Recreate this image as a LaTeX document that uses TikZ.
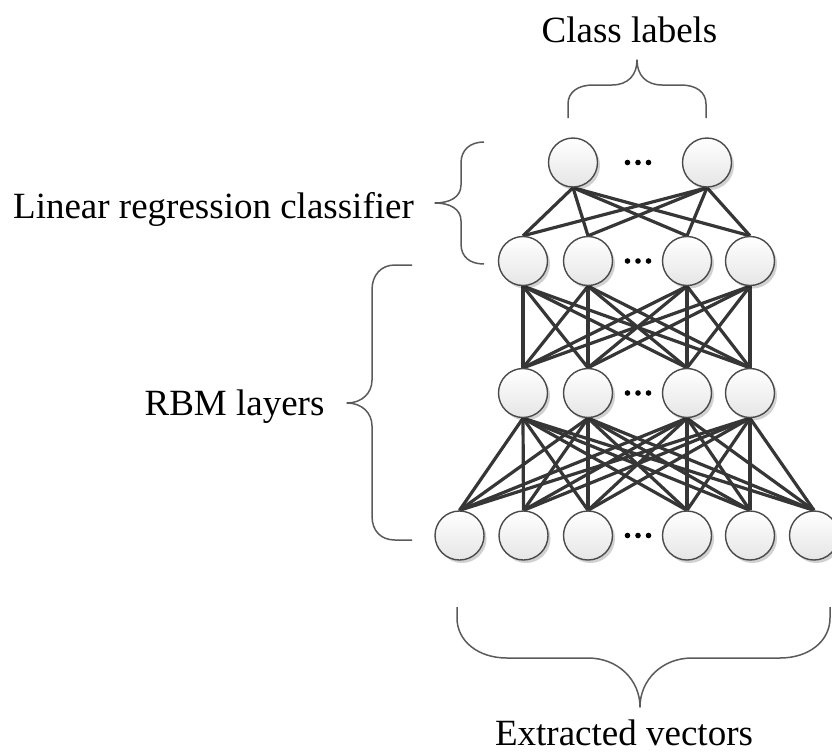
\documentclass[tikz,border=0pt]{standalone}
\usepackage{fontspec}
\setmainfont{Liberation Serif}
\usetikzlibrary{shadows,backgrounds}
\definecolor{edgecol}{HTML}{363636}
\definecolor{rimcol}{HTML}{4A4A4A}
\definecolor{bracecol}{HTML}{5A5A5A}
\tikzset{
  unit/.style={circle, minimum size=49pt, inner sep=0pt, draw=rimcol, line width=1.4pt,
    top color=white, bottom color=black!10,
    drop shadow={shadow xshift=2.5pt, shadow yshift=-3pt, fill=black, opacity=0.18}},
  link/.style={draw=edgecol, line width=3.2pt},
  bracepath/.style={draw=bracecol, line width=1.5pt, line join=round},
  lbl/.style={inner sep=0pt, anchor=base, font=\fontsize{37}{44}\selectfont},
  dotmark/.style={fill=black}
}
\begin{document}
\begin{tikzpicture}[x=1pt,y=-1pt]
\useasboundingbox (0,0) rectangle (832,755);
\clip (0,0) rectangle (832,755);
% layers
\node[unit] (t1) at (573,162.5) {};
\node[unit] (t2) at (707,162.5) {};
\foreach \i/\x in {1/523,2/588,3/687,4/750} {
  \node[unit] (a\i) at (\x,261) {};
  \node[unit] (b\i) at (\x,393) {};
}
\foreach \i/\x in {1/459.5,2/523.5,3/588,4/687,5/750,6/814} {
  \node[unit] (c\i) at (\x,535.5) {};
}
% dots
\foreach \y in {162.5,261,393,535.5} {
  \foreach \x in {627.5,638,648.5} { \fill[dotmark] (\x,\y) circle (2.8); }
}
% connections
\begin{scope}[on background layer]
\foreach \i in {1,2} { \foreach \j in {1,...,4} { \draw[link] (t\i.south) -- (a\j.north); } }
\foreach \i in {1,...,4} { \foreach \j in {1,...,4} { \draw[link] (a\i.south) -- (b\j.north); } }
\foreach \i in {1,...,4} { \foreach \j in {1,...,6} { \draw[link] (b\i.south) -- (c\j.north); } }
\end{scope}
% braces
\draw[bracepath] (568,118) -- (568,104) .. controls (568,92) and (578,85) .. (593,85) -- (612,85)
  .. controls (628,85) and (637,75) .. (637,60)
  .. controls (637,75) and (646,85) .. (662,85) -- (681,85)
  .. controls (696,85) and (706,92) .. (706,104) -- (706,118);
\draw[bracepath] (484,142) .. controls (470,142) and (461,150) .. (461,163) -- (461,185)
  .. controls (461,197) and (450,203) .. (435,203)
  .. controls (450,203) and (461,209) .. (461,221) -- (461,244)
  .. controls (461,257) and (470,264) .. (484,264);
\draw[bracepath] (412,265) -- (395,265) .. controls (381,265) and (372,275) .. (372,290) -- (372,380)
  .. controls (372,393) and (362,403) .. (347,403)
  .. controls (362,403) and (372,413) .. (372,426) -- (372,516)
  .. controls (372,531) and (381,540) .. (395,540) -- (412,540);
\draw[bracepath] (457,607) -- (457,618) .. controls (457,641) and (478,658) .. (507,658) -- (588,658)
  .. controls (618,658) and (640,680) .. (640,707)
  .. controls (640,680) and (662,658) .. (692,658) -- (780,658)
  .. controls (809,658) and (830,641) .. (830,618) -- (830,607);
% labels
\node[lbl] (classlbl) at (629.5,42) {Class labels};
\node[lbl] (lrclbl) at (213.5,218) {Linear regression classifier};
\node[lbl] (rbmlbl) at (234.5,415) {RBM layers};
\node[lbl] (extlbl) at (624,745) {Extracted vectors};
\end{tikzpicture}
\end{document}
